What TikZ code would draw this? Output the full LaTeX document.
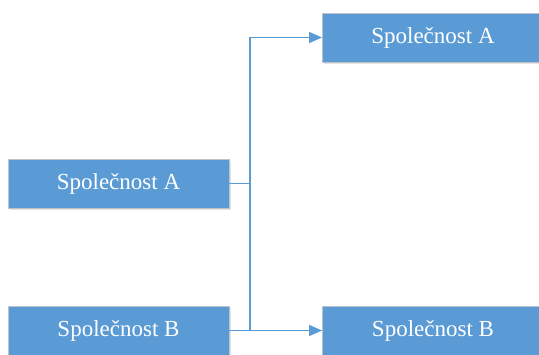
\documentclass[tikz,border=0pt]{standalone}
\usepackage{fontspec}
\setmainfont{Liberation Serif}
\usetikzlibrary{arrows.meta,shadows,calc}
\definecolor{boxblue}{HTML}{5B9BD5}
\definecolor{boxedge}{HTML}{BDC3C9}
\tikzset{
  company/.style={draw=boxedge, line width=0.8pt, fill=boxblue,
    minimum width=221pt, minimum height=49pt, inner sep=0pt,
    text=white, font=\fontsize{23}{27}\selectfont,
    drop shadow={shadow xshift=1.5pt, shadow yshift=-2pt, opacity=0.18, fill=black!60}},
  link/.style={draw=boxblue, line width=1.5pt},
  linkarrow/.style={link, -{Triangle[length=13pt, width=11pt]}}
}
\begin{document}
\begin{tikzpicture}[x=1pt, y=1pt]
  \useasboundingbox (0,0) rectangle (539,354);
  % source companies on the left
  \node[company] (la) at (118.5,170.5) {Společnost A};
  \node[company] (lb) at (118.5,23.5) {Společnost B};
  % target companies on the right
  \node[company] (ra) at (433,316.5) {Společnost A};
  \node[company] (rb) at (433,23.5) {Společnost B};
  % junction on the vertical trunk
  \coordinate (j) at ($(la.east)+(20.5,0)$);
  \draw[link] (la.east) -- (j);
  \draw[linkarrow] (j) |- (ra.west);
  \draw[link] (j) |- (rb.west);
  \draw[linkarrow] (lb.east) -- (rb.west);
\end{tikzpicture}
\end{document}
